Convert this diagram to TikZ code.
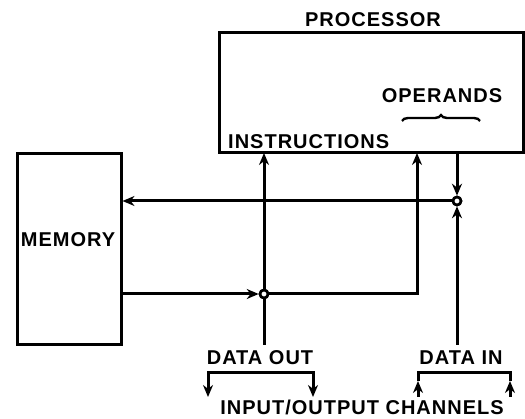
\documentclass[tikz,border=0pt]{standalone}
\usepackage{fontspec}
\newfontfamily\blockfont[LetterSpace=5]{Liberation Sans}
\usepackage{tikz}
\usetikzlibrary{
	arrows.meta,
	decorations.pathreplacing
}

\tikzset{
	unit/.style={draw,line width=3pt,inner sep=0pt},
	lbl/.style={font=\blockfont\bfseries\fontsize{20}{20}\selectfont,inner sep=0pt},
	junction/.style={circle,draw,fill=white,line width=2.6pt,inner sep=0pt,minimum size=8pt},
	bus/.style={line width=3pt}
}

\begin{document}
\begin{tikzpicture}[x=1pt,y=-1pt,>={Stealth[length=12pt,width=10pt]}]
		\useasboundingbox (0,0) rectangle (525,419);

		% blocks
		\draw
			node[unit,minimum width=304pt,minimum height=120pt] (proc) at (371,93)   {}
			node[unit,minimum width=104pt,minimum height=191pt] (mem)  at (69,249.5) {}

			node[lbl]            (procname) at (373,20)  {PROCESSOR}
			node[lbl]            (memname)  at (68,240)  {MEMORY}
			node[lbl]            (oper)     at (442,96)  {OPERANDS}
			node[lbl,anchor=west] (instr)   at (228,142) {INSTRUCTIONS}
			node[lbl]            (dout)     at (260,358) {DATA OUT}
			node[lbl]            (din)      at (461,358) {DATA IN}
			node[lbl]            (chan)     at (362,407) {INPUT/OUTPUT CHANNELS}
		;

		% taps on the processor
		\coordinate (instrIn) at (264,153);
		\coordinate (operIn)  at (417,153);
		\coordinate (operOut) at (457,153);

		\node[junction] (cIn)  at (457,201) {};
		\node[junction] (cOut) at (264,294) {};

		% operand brace
		\draw[line width=2.4pt,decorate,decoration={brace,amplitude=6pt}]
			(402,121) -- (480,121);

		% buses
		\draw[bus,->] (operOut) -- (cIn);
		\draw[bus,->] (cIn) -- (mem.east |- cIn);
		\draw[bus,->] (mem.east |- cOut) -- (cOut);
		\draw[bus,->] (cOut) -| (operIn);
		\draw[bus,->] (cOut) -- (instrIn);
		\draw[bus]    (cOut) -- (cOut |- 0,345);
		\draw[bus,->] (cIn |- 0,345) -- (cIn);
		\node[junction] at (cIn)  {};
		\node[junction] at (cOut) {};

		% channels
		\coordinate (outL) at (208,397);
		\coordinate (outR) at (313,397);
		\coordinate (inL)  at (418,397);
		\coordinate (inR)  at (510,397);
		\draw[bus,<->] (outL) -- (outL |- 0,373) -- (outR |- 0,373) -- (outR);
		\draw[bus] (inL |- 0,381) -- (inL |- 0,373) -- (inR |- 0,373) -- (inR |- 0,381);
		\draw[bus,->] (inL) -- (inL |- 0,381);
		\draw[bus,->] (inR) -- (inR |- 0,381);
\end{tikzpicture}
\end{document}
